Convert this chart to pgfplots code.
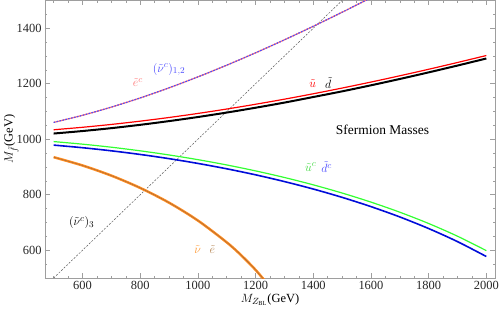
\documentclass[border=0pt]{standalone}
\usepackage{pgfplots}
\pgfplotsset{compat=1.18}
\usepackage{fontspec}
\setmainfont{Liberation Serif}
\definecolor{pinkc}{rgb}{1,0.45,0.45}
\definecolor{bluel}{rgb}{0.3,0.3,1}
\definecolor{myblue}{rgb}{0,0.05,0.85}
\definecolor{mygreen}{rgb}{0.2,1,0.2}
\definecolor{labgreen}{rgb}{0.25,0.85,0.25}
\definecolor{myorange}{rgb}{1,0.55,0.12}
\definecolor{mybrown}{rgb}{0.6,0.4,0.25}
\definecolor{laborange}{rgb}{1,0.6,0.2}
\definecolor{labbrown}{rgb}{0.7,0.5,0.3}
\definecolor{framegray}{rgb}{0.62,0.62,0.62}
\begin{document}
\begin{tikzpicture}
\useasboundingbox (-45bp,-32bp) rectangle (454bp,278bp);
\begin{axis}[
  at={(0,0)}, anchor=south west,
  scale only axis, width=450bp, height=277.5bp,
  xmin=470, xmax=2030, ymin=500, ymax=1500,
  xtick={600,800,...,2000}, ytick={600,800,...,1400},
  minor xtick={500,550,...,2000}, minor ytick={500,550,...,1500},
  tick align=inside,
  major tick length=5bp, minor tick length=2.5bp,
  axis line style={framegray, line width=0.6bp},
  every tick/.style={framegray, line width=0.5bp},
  /pgf/number format/assume math mode=true,
  /pgf/number format/1000 sep={},
  ticklabel style={font=\fontsize{12.5}{15}\selectfont, text=black!85},
  label style={font=\fontsize{12.5}{15}\selectfont},
  xlabel={$M_{Z_{\mathrm{BL}}}$(GeV)},
  ylabel={$M_{\tilde{f}}$(GeV)},
  xlabel style={yshift=3bp},
  ylabel style={yshift=-9bp},
  clip=true,
]
% dashed y = x
\addplot[gray!70!black, line width=0.5bp, dash pattern=on 2bp off 1.5bp] coordinates {(500,500) (1500,1500)};
% e^c / (nu^c)_{1,2}
\addplot[pinkc, line width=1.2bp, smooth] coordinates {
(500,1060.7)(600,1086.3)(700,1115.8)(800,1148.9)(900,1185.3)(1000,1224.7)(1100,1266.9)(1200,1311.5)(1300,1358.3)(1400,1407.1)(1500,1457.7)(1600,1510.0)};
\addplot[bluel, line width=1.2bp, smooth, dash pattern=on 1.5bp off 1.5bp] coordinates {
(500,1060.7)(600,1086.3)(700,1115.8)(800,1148.9)(900,1185.3)(1000,1224.7)(1100,1266.9)(1200,1311.5)(1300,1358.3)(1400,1407.1)(1500,1457.7)(1600,1510.0)};
% d tilde (black)
\addplot[black, line width=2bp, smooth] coordinates {
(500,1020.6)(600,1029.6)(700,1040.0)(800,1052.0)(900,1065.4)(1000,1080.1)(1100,1096.2)(1200,1113.6)(1300,1132.1)(1400,1152.2)(1500,1172.6)(1600,1194.4)(1700,1217.2)(1800,1241.0)(1900,1265.6)(2000,1291.0)};
% u tilde (red)
\addplot[red, line width=1.2bp, smooth] coordinates {
(500,1034.2)(600,1043.1)(700,1053.4)(800,1065.2)(900,1078.4)(1000,1093.0)(1100,1108.9)(1200,1126.1)(1300,1144.4)(1400,1163.9)(1500,1184.5)(1600,1206.1)(1700,1228.7)(1800,1252.2)(1900,1276.6)(2000,1301.8)};
% u^c (green)
\addplot[mygreen, line width=1.2bp, smooth] coordinates {
(500,991.6)(600,982.3)(700,971.3)(800,958.3)(900,943.4)(1000,926.5)(1100,907.4)(1200,886.0)(1300,862.2)(1400,835.7)(1500,806.2)(1600,773.5)(1700,737.1)(1800,696.4)(1900,650.6)(2000,598.6)};
% d^c (blue)
\addplot[myblue, line width=1.6bp, smooth] coordinates {
(500,978.9)(600,969.5)(700,958.3)(800,945.2)(900,930.1)(1000,912.9)(1100,893.5)(1200,871.8)(1300,847.5)(1400,820.6)(1500,790.6)(1600,757.2)(1700,720.0)(1800,678.2)(1900,631.1)(2000,577.4)};
% nu / e (orange)
\addplot[myorange, line width=2.5bp, smooth] coordinates {
(500,935.4)(600,905.5)(700,868.9)(800,824.6)(900,771.4)(1000,707.1)(1100,628.5)(1150,582.0)(1200,529.2)(1250,467.7)};
\addplot[mybrown, line width=0.4bp, smooth] coordinates {
(500,935.4)(600,905.5)(700,868.9)(800,824.6)(900,771.4)(1000,707.1)(1100,628.5)(1150,582.0)(1200,529.2)(1250,467.7)};
% labels
\node[text=pinkc, font=\fontsize{12.5}{15}\selectfont] at (axis cs:792,1205) {$\tilde{e}^c$};
\node[text=bluel, font=\fontsize{12.5}{15}\selectfont] at (axis cs:900,1252) {$(\tilde{\nu}^c)_{1,2}$};
\node[text=red, font=\fontsize{12.5}{15}\selectfont] at (axis cs:1398,1200) {$\tilde{u}$};
\node[text=black, font=\fontsize{12.5}{15}\selectfont] at (axis cs:1452,1203) {$\tilde{d}$};
\node[text=black, font=\fontsize{13.5}{16}\selectfont] at (axis cs:1640,1035) {Sfermion Masses};
\node[text=labgreen, font=\fontsize{12.5}{15}\selectfont] at (axis cs:1391,900) {$\tilde{u}^c$};
\node[text=bluel, font=\fontsize{12.5}{15}\selectfont] at (axis cs:1446,900) {$\tilde{d}^c$};
\node[text=black, font=\fontsize{12.5}{15}\selectfont] at (axis cs:597,699) {$(\tilde{\nu}^c)_3$};
\node[text=laborange, font=\fontsize{12.5}{15}\selectfont] at (axis cs:999,601) {$\tilde{\nu}$};
\node[text=labbrown, font=\fontsize{12.5}{15}\selectfont] at (axis cs:1050,601) {$\tilde{e}$};
\end{axis}
\end{tikzpicture}
\end{document}
